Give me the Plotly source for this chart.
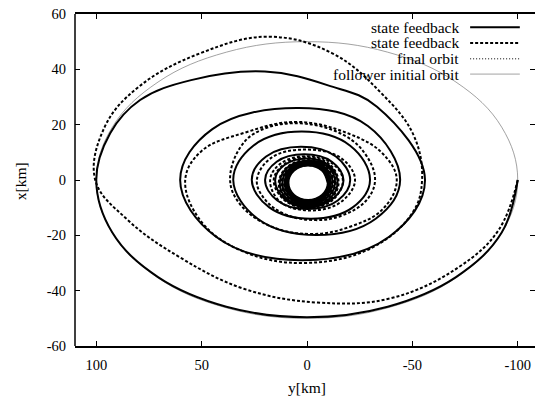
import plotly.graph_objects as go

# Axis ticks
x_ticks = [100, 50, 0, -50, -100]
x_tick_text = ["100", "50", "0", "-50", "-100"]
y_ticks = [-60, -40, -20, 0, 20, 40, 60]
y_tick_text = ["-60", "-40", "-20", "0", "20", "40", "60"]

legend_labels = ["state feedback", "state feedback", "final orbit", "follower initial orbit"]

# Relative trajectories, points as (y [km], x [km])
solid_path = [
    (-100, 0), (-92.4, -19), (-70.7, -35.1), (-38.3, -45.8), (0, -49.6),
    (38.3, -45.8), (70.7, -35.1), (92.4, -19),
    (100, 0), (93.4, 16.9), (79.2, 28.9), (55, 36.1), (20, 39.2),
    (-10, 34.2), (-33.2, 26.5),
    (-56, 0), (-39, -20.5), (3, -29), (43.2, -20.5),
    (60.2, 0), (44.9, 18.4), (4, 26), (-28.9, 19.5),
    (-44.2, 0), (-32.6, -14), (-4.6, -19.9), (23.4, -14),
    (35, 0), (25.5, 12.4), (2.5, 17.5), (-20.5, 12.4),
    (-29.9, 0), (-21.7, -9.9), (-1.9, -14), (17.9, -9.9),
    (26.2, 0), (19.4, 8.5), (2.9, 12), (-13.7, 8.5),
    (-20.5, 0), (-14.6, -7.4), (-0.3, -10.5), (14.1, -7.4),
    (19.9, 0), (14.4, 6.6), (1.4, 9.3), (-11.8, 6.6),
    (-17.3, 0), (-12.2, -6.8), (-0.8, -9.8), (10.5, -7),
    (15.1, 0), (10.7, 5.4), (0, 7.8), (-10.3, 5.4),
    (-14.5, -1), (-10.4, -6.9), (-0.5, -9.4), (9.4, -6.9),
    (12.9, -1), (9.0, 4.7), (-0.5, 7.0), (-10.0, 4.7),
    (-13.3, -1), (-9.5, -6.4), (-0.5, -8.7), (8.5, -6.4),
    (11.7, -1), (8.1, 4.2), (-0.5, 6.4), (-9.1, 4.2),
    (-12.1, -1), (-8.7, -6.0), (-0.5, -8.1), (7.7, -6.0),
    (10.6, -1), (7.3, 3.9), (-0.5, 5.9), (-8.3, 3.9),
    (-11.1, -1), (-8.0, -5.7), (-0.5, -7.7), (7.0, -5.7),
    (9.7, -1), (6.7, 3.6), (-0.5, 5.5), (-7.7, 3.6),
    (-10.4, -1), (-7.5, -5.5), (-0.5, -7.4), (6.5, -5.5),
    (9.1, -1), (6.3, 3.5), (-0.5, 5.3), (-7.3, 3.5),
    (-9.9, -1), (-7.1, -5.4), (-0.5, -7.2), (6.1, -5.4),
    (8.8, -1), (6.1, 3.4), (-0.5, 5.2), (-7.1, 3.4),
    (-9.8, -1),
]

dashed_path = [
    (-100, 0), (-91, -18), (-72, -31.5), (-40, -42.7), (-5, -44.3),
    (30, -39.3), (60, -28.1), (85, -14.5),
    (100.5, 0), (96, 19.2), (80, 33.6), (50.7, 45.8), (18, 51.8),
    (-12, 45.8), (-35, 31.6), (-50.6, 16.2),
    (-54.6, 0), (-50, -11.9), (-30, -24.8), (1.6, -30), (30, -25.9), (50, -15.2),
    (57.8, 0), (50, 10.5), (30, 17), (5, 21), (-20, 16.7), (-36, 9.5),
    (-42.6, 0), (-36, -10.5), (-20, -17), (-2, -19.5), (18, -16.5), (32, -8.5),
    (36.5, 0), (31.5, 12), (22, 18), (3, 20.5), (-18, 16), (-28, 9),
    (-32.3, 0), (-28, -7.5), (-16, -13), (-4, -14.5), (10, -12.5), (20, -7),
    (23.8, 0), (17, 8), (1, 11), (-16, 8),
    (-22.8, 0), (-16, -8), (-2, -11), (12.5, -8),
    (17.5, 0), (12.4, 6), (0.2, 8.6), (-12, 6),
    (-17, 0), (-12.2, -7.2), (-0.8, -10.2), (10.8, -7.2),
    (15.8, 0), (11, 5.6), (0, 8.2), (-10.8, 5.6),
    (-15.0, -1), (-10.8, -7.2), (-0.5, -9.7), (9.8, -7.2),
    (13.4, -1), (9.3, 4.8), (-0.5, 7.2), (-10.3, 4.8),
    (-13.7, -1), (-9.8, -6.6), (-0.5, -8.9), (8.8, -6.6),
    (12.1, -1), (8.4, 4.4), (-0.5, 6.6), (-9.4, 4.4),
    (-12.5, -1), (-9.0, -6.2), (-0.5, -8.3), (8.0, -6.2),
    (10.9, -1), (7.6, 4.0), (-0.5, 6.0), (-8.6, 4.0),
    (-11.4, -1), (-8.2, -5.8), (-0.5, -7.8), (7.2, -5.8),
    (9.9, -1), (6.9, 3.7), (-0.5, 5.6), (-7.9, 3.7),
    (-10.5, -1), (-7.6, -5.5), (-0.5, -7.4), (6.6, -5.5),
    (9.2, -1), (6.4, 3.5), (-0.5, 5.3), (-7.4, 3.5),
    (-10.1, -1),
]

final_orbit = [
    (-0.5, -7.2), (6.1, -5.4), (8.9, -1), (6.1, 3.4), (-0.5, 5.2),
    (-7.1, 3.4), (-9.9, -1), (-7.1, -5.4), (-0.5, -7.2),
]

initial_orbit = [
    (0, -50), (38.3, -46.2), (70.7, -35.4), (92.4, -19.1), (100, 0),
    (92.4, 19.1), (70.7, 35.4), (38.3, 46.2), (0, 50),
    (-38.3, 46.2), (-70.7, 35.4), (-92.4, 19.1), (-100, 0),
    (-92.4, -19.1), (-70.7, -35.4), (-38.3, -46.2), (0, -50),
]


def unpack(path):
    ys, xs = zip(*path)
    return list(ys), list(xs)


SMOOTH = 1.1
FONT = "Liberation Serif"

fig = go.Figure()

iy, ix = unpack(initial_orbit)
fig.add_trace(go.Scatter(x=iy, y=ix, mode="lines", name=legend_labels[3],
                         line=dict(color="#8a8a8a", width=0.8, shape="spline", smoothing=SMOOTH)))

sy, sx = unpack(solid_path)
fig.add_trace(go.Scatter(x=sy, y=sx, mode="lines", name=legend_labels[0],
                         line=dict(color="black", width=2, shape="spline", smoothing=SMOOTH)))

dy, dx = unpack(dashed_path)
fig.add_trace(go.Scatter(x=dy, y=dx, mode="lines", name=legend_labels[1],
                         line=dict(color="black", width=2, dash="3px,2px",
                                   shape="spline", smoothing=SMOOTH)))

fy, fx = unpack(final_orbit)
fig.add_trace(go.Scatter(x=fy, y=fx, mode="lines", name=legend_labels[2],
                         line=dict(color="black", width=1, dash="1px,2px",
                                   shape="spline", smoothing=SMOOTH)))

# Key: right-aligned labels followed by line samples
key_rows = [0.960, 0.913, 0.865, 0.819]
key_styles = [
    dict(color="black", width=2),
    dict(color="black", width=2, dash="3px,2px"),
    dict(color="black", width=1, dash="1px,2px"),
    dict(color="#8a8a8a", width=0.8),
]
shapes = []
annotations = []
for label, yk, st in zip(legend_labels, key_rows, key_styles):
    annotations.append(dict(text=label, xref="paper", yref="paper", x=0.839, y=yk,
                            xanchor="right", yanchor="middle", showarrow=False,
                            font=dict(family=FONT, size=15.5, color="black")))
    shapes.append(dict(type="line", xref="paper", yref="paper",
                       x0=0.859, x1=0.967, y0=yk, y1=yk, line=st))

# Left frame edge
shapes.append(dict(type="line", xref="paper", yref="paper", x0=0, x1=0, y0=0, y1=1,
                   line=dict(color="black", width=1.5)))

# Axis titles
annotations.append(dict(text="y[km]", xref="paper", yref="paper", x=0.504, y=-0.126,
                        xanchor="center", yanchor="middle", showarrow=False,
                        font=dict(family=FONT, size=15.5, color="black")))
annotations.append(dict(text="x[km]", xref="paper", yref="paper", x=-0.117, y=0.497,
                        xanchor="center", yanchor="middle", showarrow=False, textangle=-90,
                        font=dict(family=FONT, size=15.5, color="black")))

fig.update_layout(
    width=535, height=403,
    margin=dict(l=75, r=0, t=14, b=57),
    paper_bgcolor="white", plot_bgcolor="white",
    showlegend=False,
    font=dict(family=FONT, size=14.5, color="black"),
    shapes=shapes, annotations=annotations,
    xaxis=dict(range=[110.1, -108.2], tickvals=x_ticks, ticktext=x_tick_text,
               ticks="inside", ticklen=5, tickwidth=1, tickcolor="black",
               ticklabelstandoff=5,
               showline=True, linecolor="black", linewidth=1.5, mirror="ticks",
               showgrid=False, zeroline=False),
    yaxis=dict(range=[-60, 60], tickvals=y_ticks, ticktext=y_tick_text,
               ticks="inside", ticklen=5, tickwidth=1, tickcolor="black",
               ticklabelstandoff=8,
               showline=False, mirror="ticks",
               showgrid=False, zeroline=False),
)

fig.write_html("out.html")
